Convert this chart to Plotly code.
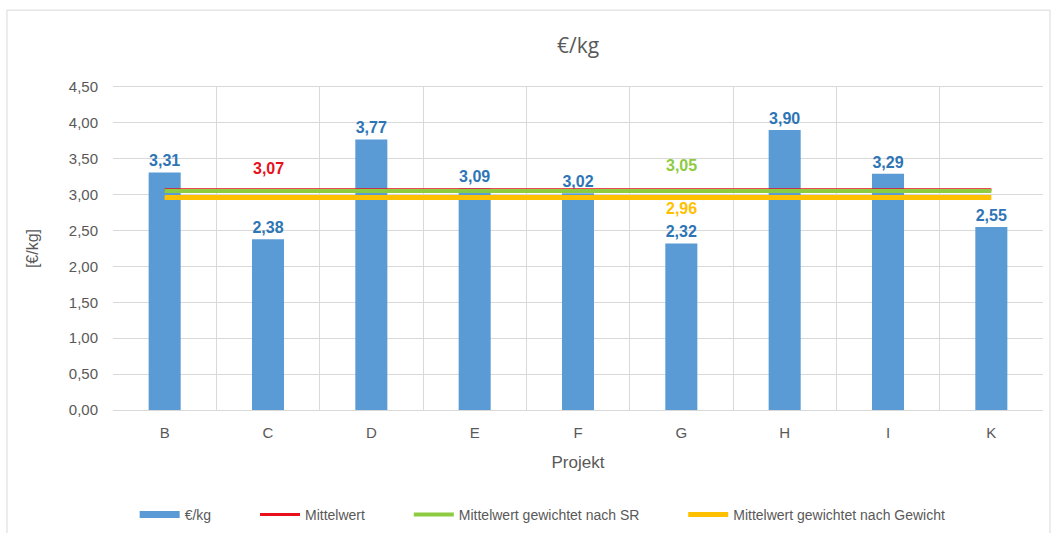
import plotly.graph_objects as go

# Projects and cost per kg
projekte = ["B", "C", "D", "E", "F", "G", "H", "I", "K"]
eur_pro_kg = [3.31, 2.38, 3.77, 3.09, 3.02, 2.32, 3.90, 3.29, 2.55]

# Averages
mittelwert = 3.07
mittelwert_sr = 3.05
mittelwert_gewicht = 2.96

y_ticks = [0, 0.5, 1, 1.5, 2, 2.5, 3, 3.5, 4, 4.5]
y_tick_text = [f"{v:.2f}".replace(".", ",") for v in y_ticks]


def de(v):
    return f"{v:.2f}".replace(".", ",")


BAR = "#5B9BD5"
LABEL_BLUE = "#2E75B6"
RED = "#E8111B"
GREEN = "#8DCB41"
YELLOW = "#FFC000"
GREY = "#595959"
FONT = "Liberation Sans"
PAD = "\u00a0" * 10  # extra spacing between legend entries

fig = go.Figure()

fig.add_bar(
    x=projekte, y=eur_pro_kg, name="€/kg", showlegend=False,
    marker=dict(color=BAR, line=dict(width=0)),
    width=0.31,
    text=[de(v) for v in eur_pro_kg], textposition="outside",
    textfont=dict(color=LABEL_BLUE, size=16, family=FONT),
    texttemplate="<b>%{text}</b>", cliponaxis=False,
)
# wide legend key for the bar series
fig.add_scatter(x=[None], y=[None], name="€/kg" + PAD, mode="lines",
                line=dict(color=BAR, width=7))

for name, val, col, w in [
    ("Mittelwert" + PAD, mittelwert, RED, 3),
    ("Mittelwert gewichtet nach SR" + PAD, mittelwert_sr, GREEN, 4),
    ("Mittelwert gewichtet nach Gewicht", mittelwert_gewicht, YELLOW, 5),
]:
    fig.add_scatter(
        x=projekte, y=[val] * len(projekte), name=name, mode="lines",
        line=dict(color=col, width=w), hoverinfo="skip",
    )

# value labels for the averages
fig.add_annotation(x="C", y=mittelwert, text=f"<b>{de(mittelwert)}</b>", showarrow=False,
                   yshift=21, font=dict(color=RED, size=16, family=FONT))
fig.add_annotation(x="G", y=mittelwert_sr, text=f"<b>{de(mittelwert_sr)}</b>", showarrow=False,
                   yshift=26, font=dict(color=GREEN, size=16, family=FONT))
fig.add_annotation(x="G", y=mittelwert_gewicht, text=f"<b>{de(mittelwert_gewicht)}</b>", showarrow=False,
                   yshift=-11, font=dict(color=YELLOW, size=16, family=FONT))

# outer chart frame
fig.add_shape(type="rect", xref="paper", yref="paper",
              x0=-0.1140, x1=1.0075, y0=-0.45, y1=1.2381,
              line=dict(color="#D9D9D9", width=1), layer="below")

fig.update_layout(
    width=1053, height=533,
    margin=dict(l=113, r=10, t=87, b=123, autoexpand=False),
    paper_bgcolor="white", plot_bgcolor="white",
    font=dict(family=FONT, color=GREY, size=15),
    title=dict(text="€/kg", x=0.5, xanchor="center", xref="paper", y=0.915, yanchor="middle",
               font=dict(size=21, color=GREY, family="Open Sans")),
    bargap=0.69,
    showlegend=True,
    legend=dict(orientation="h", x=0.462, xanchor="center", y=-0.325, yanchor="middle",
                font=dict(size=14, color=GREY, family=FONT),
                itemwidth=40, traceorder="normal"),
    xaxis=dict(
        title=dict(text="Projekt", font=dict(size=17, color=GREY), standoff=16),
        tickson="boundaries", showgrid=True, gridcolor="#D9D9D9", gridwidth=1,
        showline=True, linecolor="#D9D9D9", mirror=True, ticks="",
        ticklabelstandoff=9, automargin=False,
        tickfont=dict(size=15, color=GREY), fixedrange=True,
    ),
    yaxis=dict(
        title=dict(text="[€/kg]", font=dict(size=16, color=GREY), standoff=26),
        range=[0, 4.5], tickvals=y_ticks, ticktext=y_tick_text,
        showgrid=True, gridcolor="#D9D9D9", gridwidth=1, zeroline=False,
        showline=False, ticks="", ticklabelstandoff=14, automargin=False,
        tickfont=dict(size=15, color=GREY),
    ),
)

fig.write_html("out.html")
